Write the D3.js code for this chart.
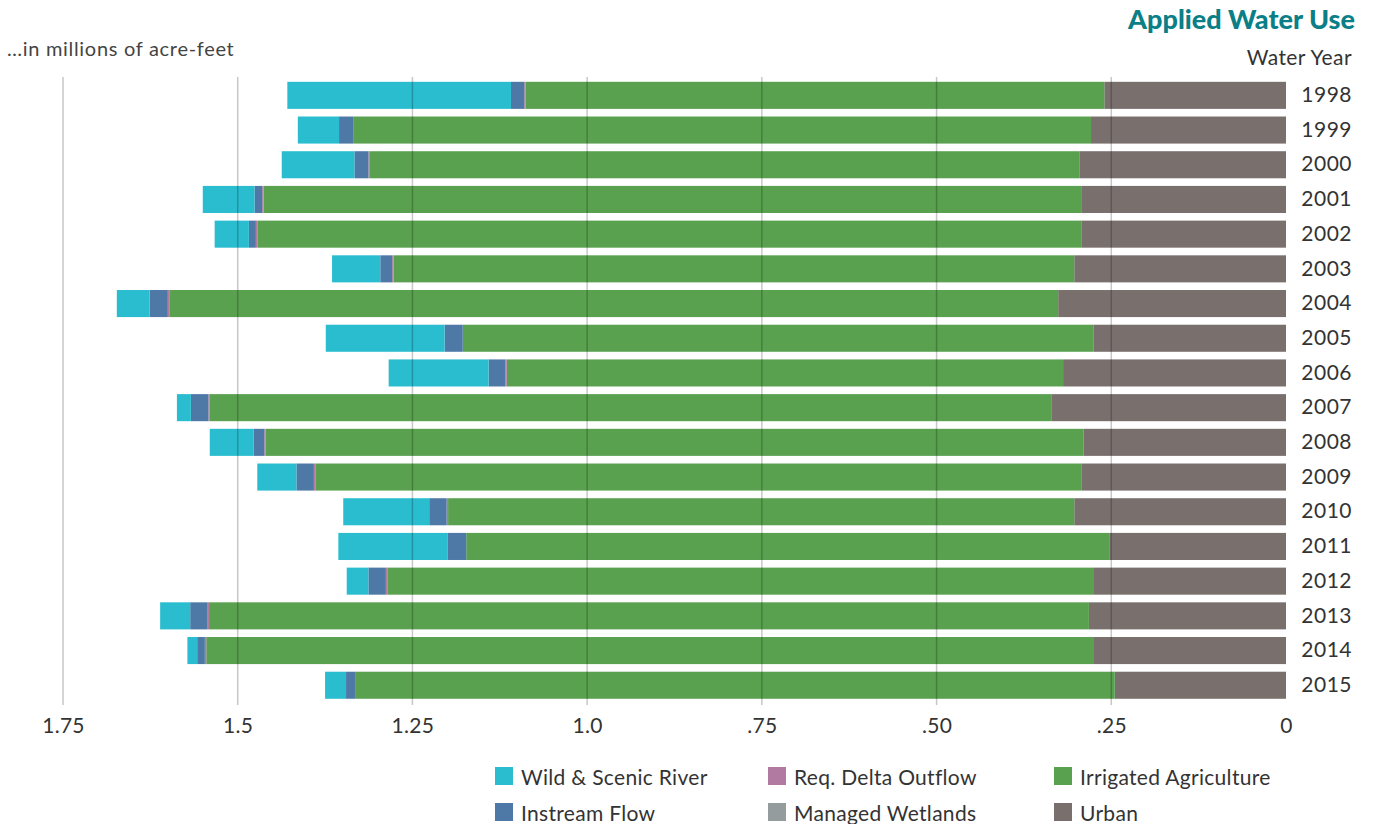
<!DOCTYPE html>
<html>
<head>
<meta charset="utf-8">
<script src="https://cdnjs.cloudflare.com/ajax/libs/d3/7.8.5/d3.min.js"></script>
<style>
  body { margin: 0; background: #fff; }
  text { font-family: Lato, "Open Sans", sans-serif; fill: #333; }
</style>
</head>
<body>
<div id="chart-area"></div>
<script>

// Data (millions of acre-feet)
var years = ["1998","1999","2000","2001","2002","2003","2004","2005","2006",
    "2007","2008","2009","2010","2011","2012","2013","2014","2015"];

var urban       = [0.260,0.279,0.295,0.292,0.293,0.303,0.326,0.275,0.319,0.335,0.290,0.293,0.303,0.252,0.276,0.282,0.276,0.245];
var irrigatedAg = [0.828,1.055,1.016,1.171,1.179,0.974,1.272,0.903,0.796,1.205,1.170,1.096,0.896,0.921,1.010,1.259,1.269,1.087];
var wetlands    = [0,0,0,0,0,0,0,0,0,0,0,0,0,0,0,0,0,0];
var deltaOut    = [0.002,0,0.002,0.002,0.002,0.002,0.002,0,0.002,0.002,0.002,0.002,0.002,0,0.002,0.002,0.002,0];
var instream    = [0.019,0.021,0.020,0.011,0.010,0.017,0.026,0.026,0.024,0.025,0.015,0.025,0.025,0.027,0.025,0.025,0.011,0.013];
var wildScenic  = [0.320,0.059,0.104,0.074,0.049,0.069,0.047,0.170,0.143,0.020,0.063,0.056,0.123,0.156,0.031,0.043,0.014,0.030];

var tickValues = [0, 0.25, 0.5, 0.75, 1.0, 1.25, 1.5, 1.75];
var tickLabels = ["0", ".25", ".50", ".75", "1.0", "1.25", "1.5", "1.75"];

var keys = ["urban", "ag", "wetlands", "delta", "instream", "wild"];
var names = {
    wild: "Wild & Scenic River", instream: "Instream Flow",
    delta: "Req. Delta Outflow", wetlands: "Managed Wetlands",
    ag: "Irrigated Agriculture", urban: "Urban"
};
var colors = {
    wild: "#2abdd0", instream: "#4e79a7", delta: "#b07aa1",
    wetlands: "#959c9e", ag: "#59a14f", urban: "#79706e"
};

var rows = years.map(function(y, i){
    return { year: y, urban: urban[i], ag: irrigatedAg[i], wetlands: wetlands[i],
        delta: deltaOut[i], instream: instream[i], wild: wildScenic[i] };
});

var width = 1375, height = 824;

var svg = d3.select("#chart-area").append("svg")
    .attr("width", width)
    .attr("height", height);

// Scales (reversed: zero on the right)
var x = d3.scaleLinear().domain([0, 1.75]).range([1286, 63]);

var y = d3.scaleBand()
    .domain(years)
    .range([78, 702.6])
    .paddingInner(0.22)
    .paddingOuter(0.11);

var series = d3.stack().keys(keys)(rows);

// Bars
svg.append("g").selectAll("g")
    .data(series)
    .enter().append("g")
    .attr("fill", function(s){ return colors[s.key]; })
    .selectAll("rect")
    .data(function(s){ return s; })
    .enter().append("rect")
    .attr("x", function(d){ return x(d[1]); })
    .attr("y", function(d){ return y(d.data.year); })
    .attr("width", function(d){ return Math.max(0, x(d[0]) - x(d[1])); })
    .attr("height", y.bandwidth());

// Gridlines on top of bars
svg.append("g").selectAll("line")
    .data(tickValues.slice(1))
    .enter().append("line")
    .attr("x1", function(d){ return x(d); })
    .attr("x2", function(d){ return x(d); })
    .attr("y1", 77)
    .attr("y2", 705)
    .attr("stroke", "#000")
    .attr("stroke-opacity", 0.22)
    .attr("stroke-width", 1.5);

// X axis
var xAxis = svg.append("g")
    .attr("transform", "translate(0,705)")
    .call(d3.axisBottom(x)
        .tickValues(tickValues)
        .tickSize(0)
        .tickPadding(13)
        .tickFormat(function(d, i){ return tickLabels[i]; }));
xAxis.select(".domain").remove();
xAxis.selectAll("text")
    .attr("font-size", "21px")
    .attr("font-family", "Lato, sans-serif")
    .attr("letter-spacing", "0.3px")
    .attr("fill", "#333");

// Year labels
svg.append("g").selectAll("text")
    .data(years)
    .enter().append("text")
    .attr("x", 1352)
    .attr("y", function(d){ return y(d) + y.bandwidth() / 2; })
    .attr("dy", "0.32em")
    .attr("text-anchor", "end")
    .attr("font-size", "21px")
    .attr("letter-spacing", "0.5px")
    .text(function(d){ return d; });

// Titles
svg.append("text")
    .attr("x", 1355)
    .attr("y", 29)
    .attr("text-anchor", "end")
    .attr("font-size", "27px")
    .attr("font-weight", "900")
    .style("fill", "#0b7f87")
    .text("Applied Water Use");

svg.append("text")
    .attr("x", 1352)
    .attr("y", 65)
    .attr("text-anchor", "end")
    .attr("font-size", "21px")
    .attr("letter-spacing", "0.4px")
    .text("Water Year");

svg.append("text")
    .attr("x", 7)
    .attr("y", 56)
    .attr("font-size", "20px")
    .attr("letter-spacing", "0.7px")
    .style("fill", "#444")
    .text("\u2026in millions of acre-feet");

// Legend
var legendItems = [
    { key: "wild", x: 495, y: 767 }, { key: "instream", x: 495, y: 803 },
    { key: "delta", x: 768, y: 767 }, { key: "wetlands", x: 768, y: 803 },
    { key: "ag", x: 1054, y: 767 }, { key: "urban", x: 1054, y: 803 }
];

var legend = svg.append("g").selectAll("g")
    .data(legendItems)
    .enter().append("g")
    .attr("transform", function(d){ return "translate(" + d.x + "," + d.y + ")"; });

legend.append("rect")
    .attr("width", 18)
    .attr("height", 18)
    .attr("fill", function(d){ return colors[d.key]; });

legend.append("text")
    .attr("x", 26)
    .attr("y", 18)
    .attr("font-size", "21px")
    .attr("letter-spacing", "0.3px")
    .text(function(d){ return names[d.key]; });

</script>
</body>
</html>
